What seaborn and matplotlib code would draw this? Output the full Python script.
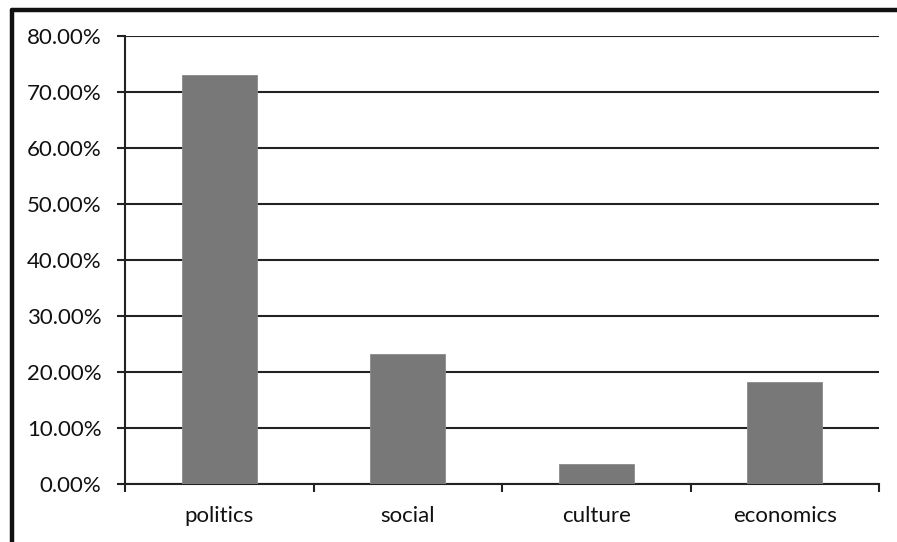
import matplotlib
matplotlib.use("Agg")
import matplotlib.pyplot as plt
import seaborn as sns
import pandas as pd
from matplotlib.ticker import PercentFormatter, FixedLocator
from matplotlib.lines import Line2D

categories = ["politics", "social", "culture", "economics"]
values = [73.1, 23.2, 3.6, 18.2]
y_ticks = [0, 10, 20, 30, 40, 50, 60, 70, 80]

sns.set_theme(style="white")
plt.rcParams['font.family'] = ['Lato', 'DejaVu Sans']

df = pd.DataFrame({"category": categories, "value": values})

fig = plt.figure(figsize=(8.97, 5.42), dpi=100)
ax = fig.add_axes([125/897, 1-484/542, (879-125)/897, (484-36)/542])

sns.barplot(data=df, x="category", y="value", color="#787878", saturation=1,
            width=0.4, edgecolor="#8a8a8a", linewidth=0.6, ax=ax, zorder=3)

ax.set_ylim(0, 80)
ax.set_xlim(-0.5, len(categories) - 0.5)
ax.yaxis.set_major_locator(FixedLocator(y_ticks))
ax.yaxis.set_major_formatter(PercentFormatter(xmax=100, decimals=2))
ax.grid(axis="y", color="#222222", linewidth=1.5, zorder=0)
ax.set_axisbelow(True)

for s in ["top", "right"]:
    ax.spines[s].set_visible(False)
for s in ["left", "bottom"]:
    ax.spines[s].set_color("#222222")
    ax.spines[s].set_linewidth(1.5)

ax.set_xlabel("")
ax.set_ylabel("")
ax.tick_params(axis="y", which="major", direction="out", length=6, width=1.5,
               color="#222222", pad=11, labelsize=16, labelcolor="#111111", left=True)
ax.tick_params(axis="x", which="major", length=0, pad=16, labelsize=16, labelcolor="#111111")
ax.set_xticks([i + 0.5 for i in range(-1, len(categories))], minor=True)
ax.tick_params(axis="x", which="minor", direction="out", length=6, width=1.5,
               color="#222222", bottom=True)

# figure frame lines (top and left)
fig.add_artist(Line2D([12/897, 1], [1-10/542, 1-10/542], transform=fig.transFigure,
                      color="#111111", linewidth=3.2))
fig.add_artist(Line2D([12/897, 12/897], [0, 1-10/542], transform=fig.transFigure,
                      color="#111111", linewidth=3.2))

fig.savefig("out.png", dpi=100)
